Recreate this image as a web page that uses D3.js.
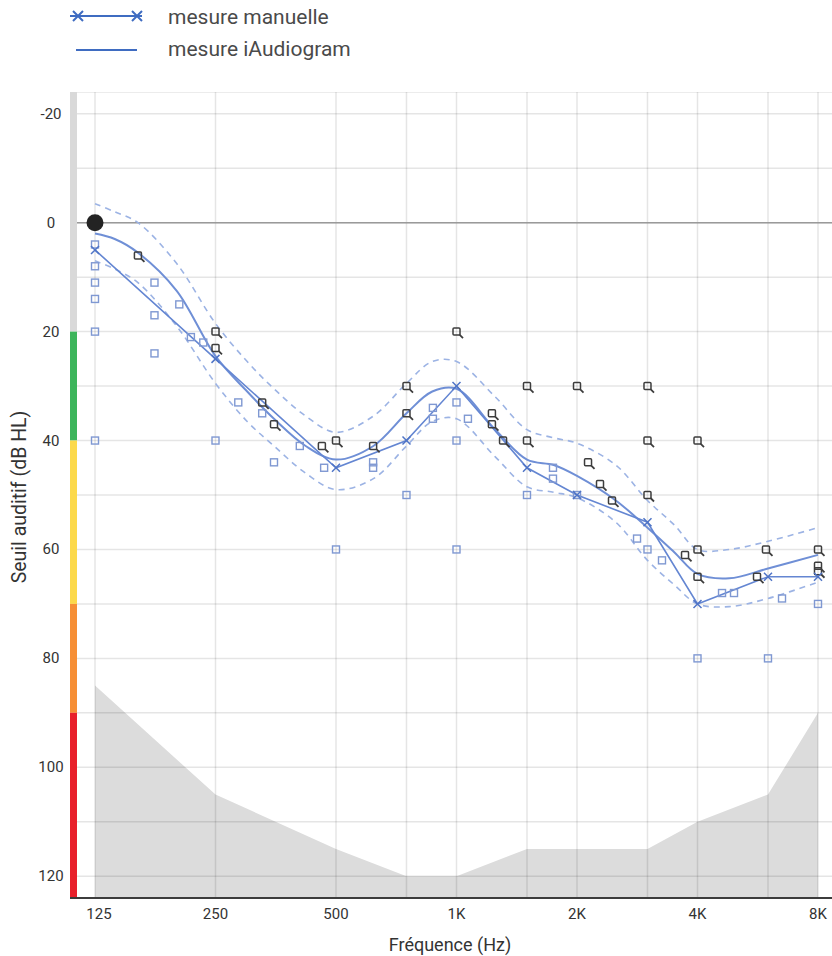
<!DOCTYPE html>
<html><head><meta charset="utf-8">
<script src="https://cdn.jsdelivr.net/npm/d3@7"></script>
<style>body{margin:0;background:#fff}svg{display:block;font-family:Roboto,"Noto Sans",sans-serif}</style>
</head><body><svg id="c" width="832" height="956"></svg>
<script>
// ---- data ----
const xTicks = [125,250,500,1000,2000,4000,8000];
const xTickLabels = ["125","250","500","1K","2K","4K","8K"];
const xGrid = [125,250,500,750,1000,1500,2000,3000,4000,6000,8000];
const yTicks = [-20,0,20,40,60,80,100,120];
const yGrid = [-20,-10,0,10,20,30,40,50,60,70,80,90,100,110,120];

const manualFreq = [125,250,500,750,1000,1500,2000,3000,4000,6000,8000];
const manualDb   = [5,25,45,40,30,45,50,55,70,65,65];

const smoothFreq = [125,140,160,200,250,300,350,420,500,620,750,870,1000,1250,1500,1750,2000,2500,3000,3500,4000,4800,6000,8000];
const smoothDb   = [2,3,5.5,12.5,24.5,31,36,41,43.5,41,35,31,30.5,38,43.5,44.5,46.5,51,56,60.5,64.5,65.3,63.5,61];
const upperDb    = [-3.5,-2,0,7.5,18.5,25.5,30.5,35.5,38.5,35.5,29.5,25.5,25.5,32,38,39.5,40.5,44.5,51,55.5,60,60,58.5,56];
const lowerDb    = [7,8.5,11,19,29.5,36.5,41,46,49,47,41,36.5,36,43,48.5,49.5,50.5,55,62,66.5,70,70.5,69,66];

const limitFreq = [125,250,500,750,1000,1500,2000,3000,4000,6000,8000];
const limitDb   = [85,105,115,120,120,115,115,115,110,105,90];

const blueFreq = [125,125,125,125,125,125,176,176,176,203,217,233,250,285,327,350,406,467,500,619,619,750,873,873,1000,1000,1000,1068,1500,1742,1742,2000,2825,3000,3261,4000,4606,4935,6000,6504,8000];
const blueDb   = [4,8,11,14,20,40,11,17,24,15,21,22,40,33,35,44,41,45,60,44,45,50,34,36,33,40,60,36,50,45,47,50,58,60,62,80,68,68,80,69,70];

const darkFreq = [160,250,250,327,350,461,500,619,750,750,1000,1226,1226,1307,1500,1500,2000,2131,2283,2446,3000,3000,3000,3723,4000,4000,4000,5633,5931,8000,8000,8000];
const darkDb   = [6,20,23,33,37,41,40,41,30,35,20,35,37,40,30,40,30,44,48,51,30,40,50,61,40,60,65,65,60,60,63,64];

const bands = [
  {from:-24,to:20,color:"#d9d9d9"},
  {from:20,to:40,color:"#3db55b"},
  {from:40,to:70,color:"#fcd94b"},
  {from:70,to:90,color:"#f68f36"},
  {from:90,to:124,color:"#e8202b"}
];
const legendItems = ["mesure manuelle","mesure iAudiogram"];

// ---- layout ----
const L=77, R=832, T=92, B=898;
const svg = d3.select("#c");
const x = d3.scaleLog().base(2).domain([125,8000]).range([95,818]);
const y = d3.scaleLinear().domain([-24,124]).range([T,B]);

svg.append("defs").append("clipPath").attr("id","clip")
  .append("rect").attr("x",L).attr("y",T).attr("width",R-L).attr("height",B-T);
const g = svg.append("g").attr("clip-path","url(#clip)");

// limit area
const limitData = limitFreq.map((f,i)=>({f,v:limitDb[i]}));
g.append("path").datum(limitData)
  .attr("d", d3.area().x(d=>x(d.f)).y0(y(124)).y1(d=>y(d.v)))
  .attr("fill","#dcdcdc");

// grid
g.append("g").selectAll("line").data(yGrid.concat([-24])).join("line")
  .attr("x1",L).attr("x2",R).attr("y1",d=>y(d)).attr("y2",d=>y(d))
  .attr("stroke","rgba(0,0,0,0.1)").attr("stroke-width",1.5);
g.append("g").selectAll("line").data(xGrid).join("line")
  .attr("x1",d=>x(d)).attr("x2",d=>x(d)).attr("y1",T).attr("y2",B)
  .attr("stroke","rgba(0,0,0,0.1)").attr("stroke-width",1.5);
g.append("line").attr("x1",L).attr("x2",R).attr("y1",y(0)).attr("y2",y(0))
  .attr("stroke","#9a9a9a").attr("stroke-width",1.5);

// colour bar
svg.append("g").selectAll("rect").data(bands).join("rect")
  .attr("x",70).attr("width",7).attr("y",d=>y(d.from)).attr("height",d=>y(d.to)-y(d.from))
  .attr("fill",d=>d.color);

// bottom axis line
svg.append("line").attr("x1",70).attr("x2",R).attr("y1",B).attr("y2",B)
  .attr("stroke","#3c3c3c").attr("stroke-width",2);

// confidence bands
const lineGen = d3.line().x(d=>x(d.f)).y(d=>y(d.v)).curve(d3.curveCatmullRom.alpha(0.5));
[upperDb, lowerDb].forEach(arr=>{
  g.append("path").datum(smoothFreq.map((f,i)=>({f,v:arr[i]})))
    .attr("d",lineGen).attr("fill","none")
    .attr("stroke","#9cb3e4").attr("stroke-width",1.6).attr("stroke-dasharray","6,5");
});
// smooth curve
g.append("path").datum(smoothFreq.map((f,i)=>({f,v:smoothDb[i]})))
  .attr("d",lineGen).attr("fill","none").attr("stroke","#6f8fd6").attr("stroke-width",2);

// manual line
const manualData = manualFreq.map((f,i)=>({f,v:manualDb[i]}));
g.append("path").datum(manualData)
  .attr("d", d3.line().x(d=>x(d.f)).y(d=>y(d.v))).attr("fill","none")
  .attr("stroke","#6486d2").attr("stroke-width",1.6);

// blue squares
g.append("g").selectAll("rect").data(blueFreq.map((f,i)=>({f,v:blueDb[i]}))).join("rect")
  .attr("x",d=>x(d.f)-3.5).attr("y",d=>y(d.v)-3.5).attr("width",7).attr("height",7)
  .attr("fill","none").attr("stroke","#7f98d2").attr("stroke-width",1.4);

// dark magnifier markers
const dk = g.append("g").selectAll("g").data(darkFreq.map((f,i)=>({f,v:darkDb[i]}))).join("g")
  .attr("transform",d=>`translate(${x(d.f)},${y(d.v)})`);
dk.append("rect").attr("x",-3.5).attr("y",-3.5).attr("width",7).attr("height",7).attr("rx",1)
  .attr("fill","none").attr("stroke","#3d3d3d").attr("stroke-width",1.5);
dk.append("line").attr("x1",3).attr("y1",3).attr("x2",6.5).attr("y2",6.5)
  .attr("stroke","#3d3d3d").attr("stroke-width",1.8);

// manual x markers
const xm = g.append("g").selectAll("g").data(manualData).join("g")
  .attr("transform",d=>`translate(${x(d.f)},${y(d.v)})`);
xm.append("path").attr("d","M-4,-4L4,4M-4,4L4,-4").attr("stroke","#4f74c6").attr("stroke-width",1.5);

// black dot
g.append("circle").attr("cx",x(125)).attr("cy",y(0)).attr("r",8.5).attr("fill","#232323");

// axes labels
svg.append("g").selectAll("text").data(yTicks).join("text")
  .attr("x",51).attr("y",d=>y(d)+5).attr("text-anchor","middle")
  .attr("font-size",15).attr("fill","#333").text(d=>d);
svg.append("g").selectAll("text").data(xTicks).join("text")
  .attr("x",(d,i)=>x(d)+(i===0?4:0)).attr("y",919).attr("text-anchor","middle")
  .attr("font-size",15).attr("fill","#333").text((d,i)=>xTickLabels[i]);
svg.append("text").attr("x",450).attr("y",951).attr("text-anchor","middle")
  .attr("font-size",18).attr("fill","#333").text("Fréquence (Hz)");
svg.append("text").attr("transform","translate(26,497) rotate(-90)").attr("text-anchor","middle")
  .attr("font-size",19.5).attr("fill","#333").text("Seuil auditif (dB HL)");

// legend
const lg = svg.append("g");
lg.append("line").attr("x1",70).attr("x2",142).attr("y1",16).attr("y2",16).attr("stroke","#3f6cc1").attr("stroke-width",2);
[78,137].forEach(cx=>lg.append("path").attr("d",`M${cx-5},${11}L${cx+5},${21}M${cx-5},${21}L${cx+5},${11}`).attr("stroke","#3f6cc1").attr("stroke-width",2));
lg.append("line").attr("x1",76).attr("x2",137).attr("y1",50).attr("y2",50).attr("stroke","#3f6cc1").attr("stroke-width",2);
lg.selectAll("text").data(legendItems).join("text")
  .attr("x",168).attr("y",(d,i)=>24+i*32).attr("font-size",21).attr("fill","#4a4a4a").text(d=>d);
</script></body></html>
